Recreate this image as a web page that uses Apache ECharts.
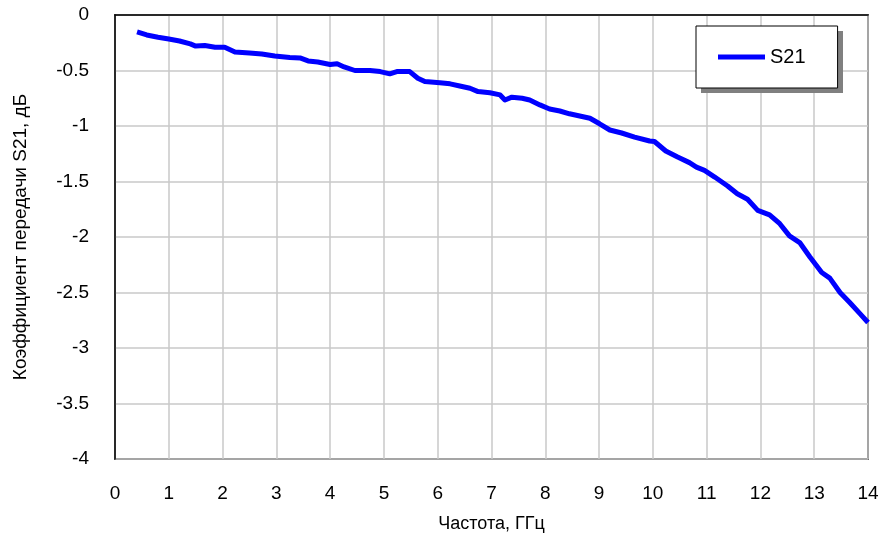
<!DOCTYPE html>
<html>
<head>
<meta charset="utf-8">
<script src="https://cdn.jsdelivr.net/npm/echarts@6/dist/echarts.min.js"></script>
<style>html,body{margin:0;padding:0;background:#fff}#c{width:883px;height:543px}</style>
</head>
<body>
<div id="c"></div>
<script>
const freqGHz = [0.41,0.59,0.8,1.0,1.2,1.4,1.5,1.67,1.86,2.04,2.23,2.5,2.73,2.97,3.25,3.44,3.59,3.77,4.0,4.13,4.26,4.46,4.74,4.93,5.11,5.24,5.48,5.63,5.76,6.04,6.23,6.41,6.6,6.75,6.97,7.16,7.25,7.38,7.57,7.71,7.9,8.08,8.27,8.45,8.64,8.83,9.01,9.2,9.42,9.66,9.94,10.03,10.24,10.46,10.68,10.81,10.96,11.15,11.39,11.57,11.76,11.95,12.17,12.36,12.54,12.73,12.92,13.14,13.29,13.48,13.66,13.85,14.0];
const s21dB = [-0.153,-0.18,-0.2,-0.216,-0.234,-0.26,-0.28,-0.275,-0.29,-0.29,-0.333,-0.342,-0.351,-0.37,-0.383,-0.387,-0.414,-0.423,-0.446,-0.44,-0.468,-0.5,-0.5,-0.51,-0.53,-0.51,-0.51,-0.57,-0.6,-0.61,-0.62,-0.64,-0.66,-0.69,-0.7,-0.72,-0.766,-0.74,-0.75,-0.766,-0.81,-0.847,-0.865,-0.89,-0.91,-0.93,-0.98,-1.036,-1.063,-1.1,-1.135,-1.14,-1.225,-1.28,-1.33,-1.37,-1.4,-1.46,-1.54,-1.61,-1.66,-1.76,-1.8,-1.88,-1.99,-2.05,-2.18,-2.32,-2.37,-2.5,-2.59,-2.69,-2.77];
const seriesName = 'S21';
const xTitle = 'Частота, ГГц';
const yTitle = 'Коэффициент передачи S21, дБ';

const FONT = '"Liberation Sans Narrow", "Arial Narrow", "Liberation Sans", Arial, sans-serif';
const chart = echarts.init(document.getElementById('c'), null, {renderer: 'canvas'});
chart.setOption({
  backgroundColor: '#fff',
  animation: false,
  textStyle: {fontFamily: FONT},
  grid: {left: 115, right: 15, top: 15, bottom: 84, show: true, borderColor: '#000', borderWidth: 1.5, backgroundColor: 'transparent'},
  graphic: {
    z: 3,
    elements: [{
      type: 'rect', left: 701, top: 31, z: 3,
      shape: {width: 142, height: 62},
      style: {fill: '#808080'}
    }]
  },
  legend: {
    left: 696, top: 26, z: 10,
    padding: [21, 32, 21, 22],
    itemWidth: 47, itemHeight: 5, itemGap: 10,
    icon: 'rect',
    backgroundColor: '#fff',
    borderColor: '#000', borderWidth: 1,
    textStyle: {fontFamily: FONT, fontSize: 20, color: '#000'},
    data: [seriesName]
  },
  xAxis: {
    type: 'value', min: 0, max: 14, interval: 1,
    name: xTitle, nameLocation: 'middle', nameGap: 56,
    nameTextStyle: {fontFamily: FONT, fontSize: 18, color: '#000'},
    axisLine: {show: true, lineStyle: {color: '#000', width: 1.5}},
    axisTick: {show: false},
    axisLabel: {fontFamily: FONT, fontSize: 19, color: '#000', margin: 25},
    splitLine: {show: true, lineStyle: {color: '#c8c8c8', width: 1.5}}
  },
  yAxis: {
    type: 'value', min: -4, max: 0, interval: 0.5,
    name: yTitle, nameLocation: 'middle', nameGap: 85,
    nameTextStyle: {fontFamily: FONT, fontSize: 19, color: '#000'},
    axisLine: {show: true, lineStyle: {color: '#000', width: 1.5}},
    axisTick: {show: false},
    axisLabel: {fontFamily: FONT, fontSize: 19, color: '#000', margin: 26},
    splitLine: {show: true, lineStyle: {color: '#c8c8c8', width: 1.5}}
  },
  series: [{
    name: seriesName, type: 'line',
    data: freqGHz.map((f, i) => [f, s21dB[i]]),
    showSymbol: false, symbol: 'none',
    lineStyle: {color: '#0000ff', width: 5, join: 'round'},
    itemStyle: {color: '#0000ff'}
  }]
});
</script>
</body>
</html>
